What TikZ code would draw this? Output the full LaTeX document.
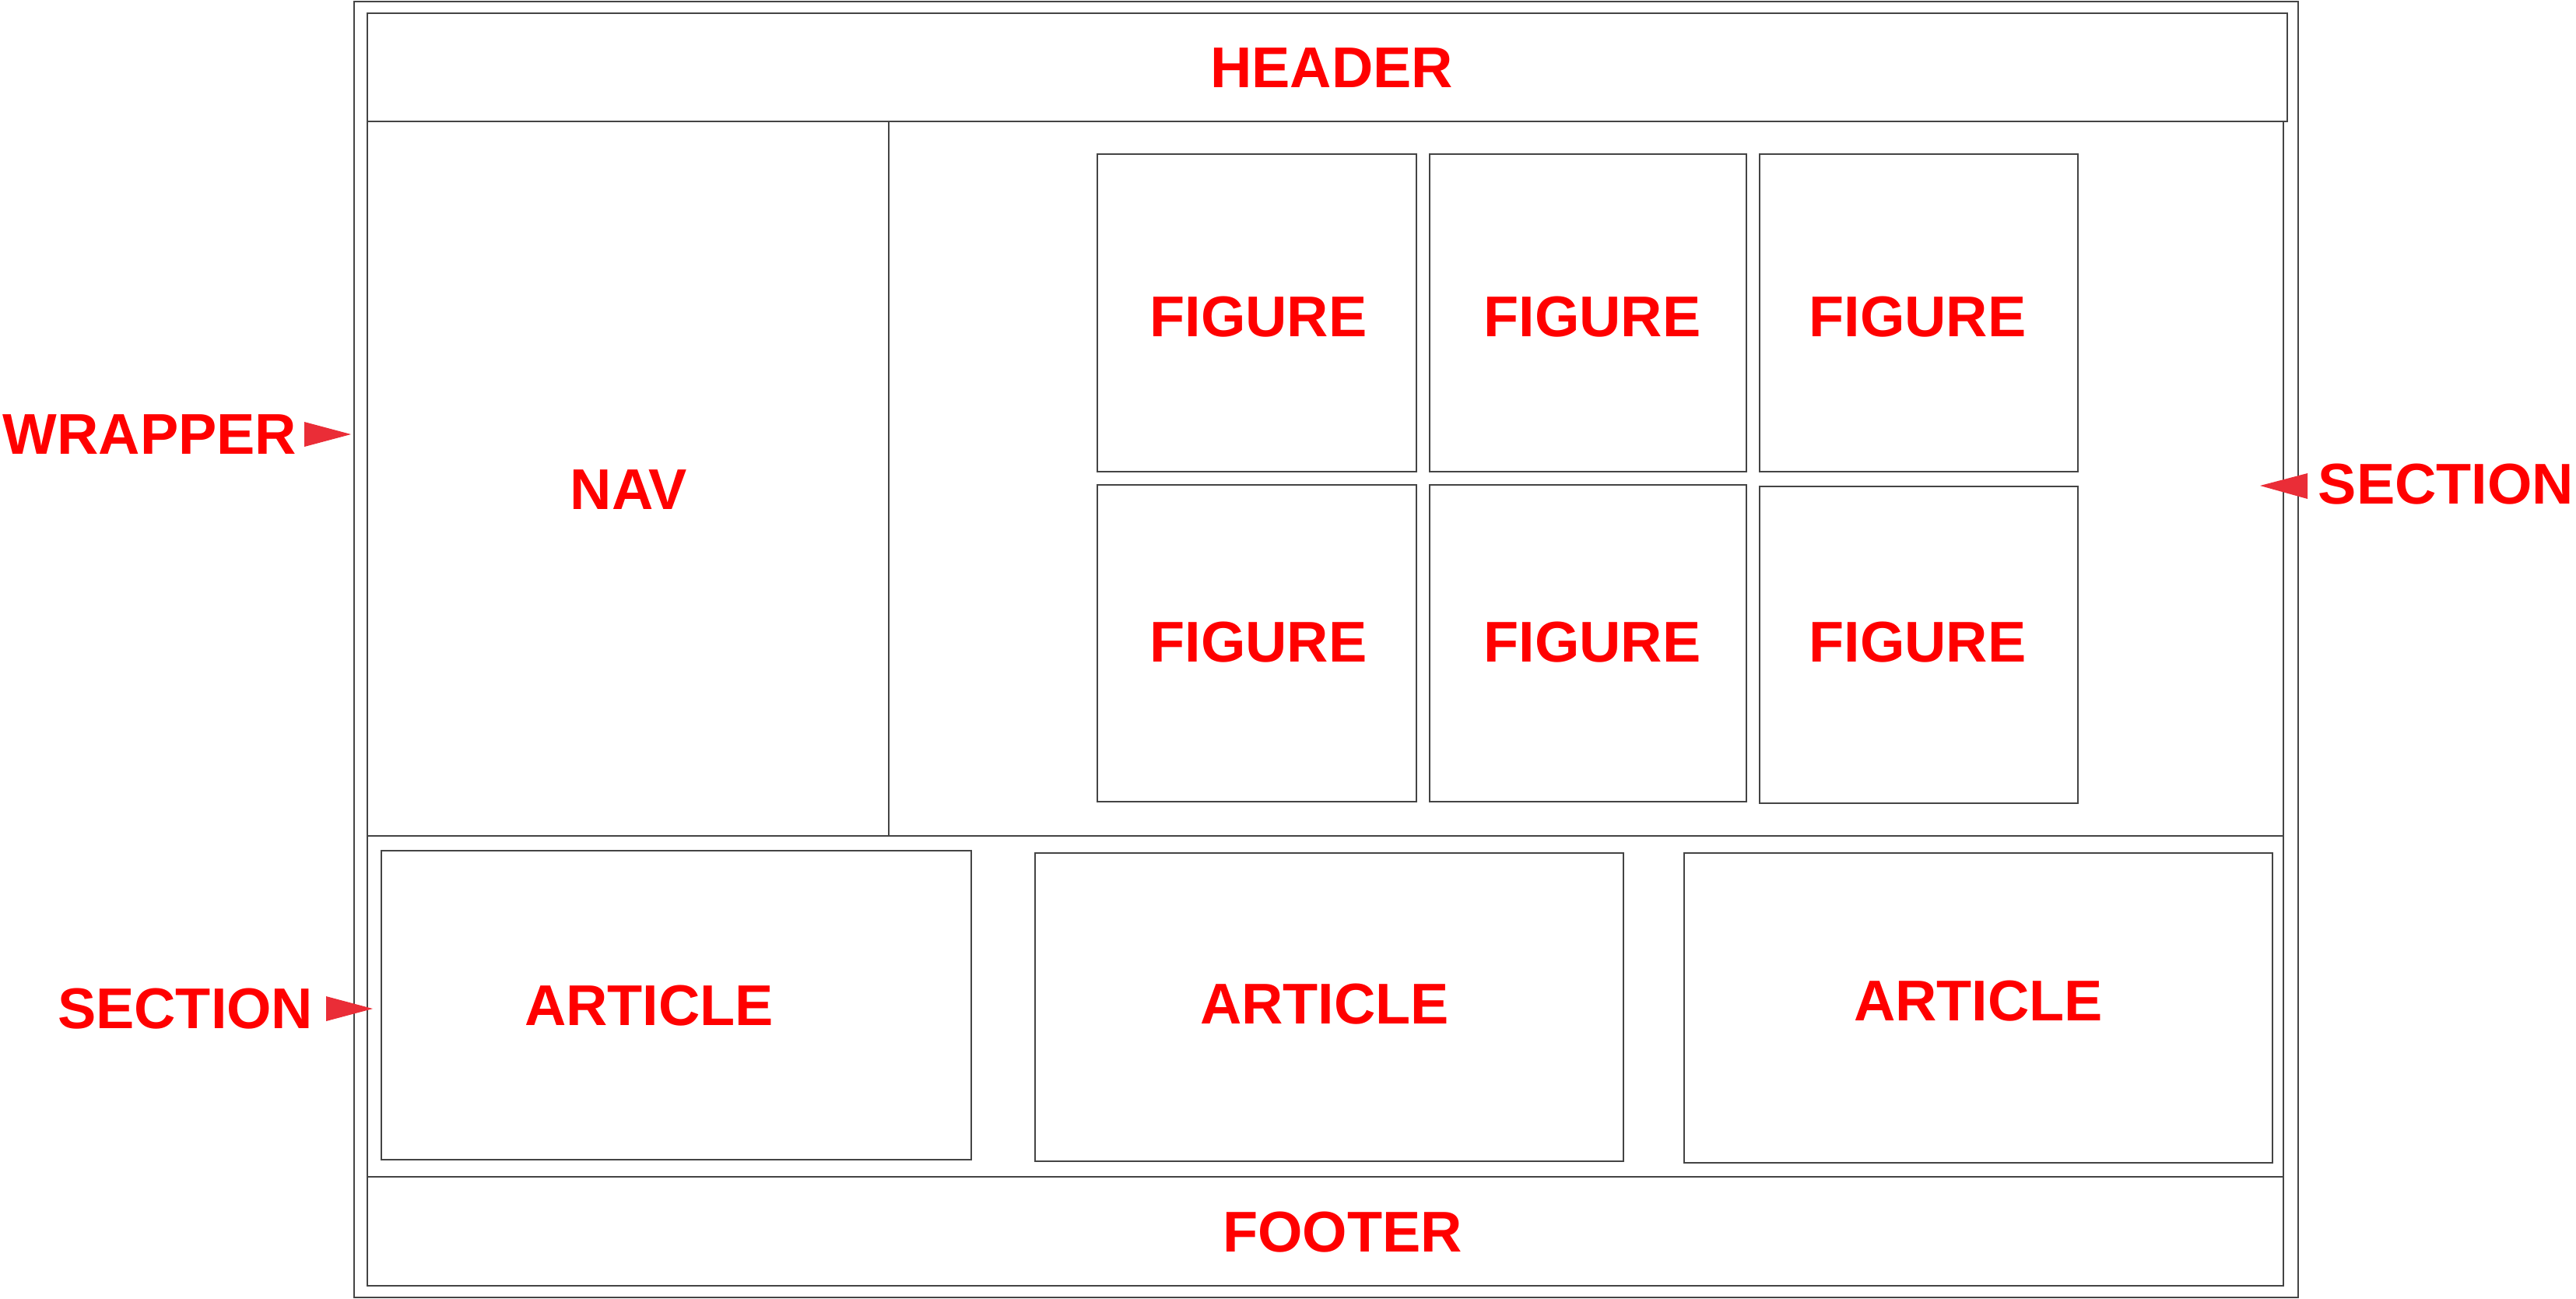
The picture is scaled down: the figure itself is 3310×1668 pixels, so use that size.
\documentclass[tikz,border=0pt]{standalone}
\usepackage{fontspec}
\setmainfont{Liberation Sans}
\usetikzlibrary{fit}
\definecolor{linegray}{HTML}{444444}
\definecolor{labred}{RGB}{255,0,0}
\definecolor{arrred}{RGB}{234,45,55}
\begin{document}
\begin{tikzpicture}[x=0.01cm,y=-0.01cm,
  box/.style={draw=linegray,line width=0.5pt,inner sep=0pt,fit={#1}},
  lbl/.style={text=labred,inner sep=0pt,font=\fontsize{21}{25}\selectfont\bfseries},
  tri/.style={fill=arrred}]
\useasboundingbox (0,0) rectangle (3310,1668);
% containers
\node[box={(455,2) (2953,1667)}] (wrapper) {};
\node[box={(472,17) (2939,156)}] (header) {};
\node[box={(472,156) (1142,1074)}] (nav) {};
\node[box={(1142,156) (2934,1074)}] (sectop) {};
\node[box={(472,1074) (2934,1512)}] (secbot) {};
\node[box={(472,1512) (2934,1652)}] (footer) {};
% figures
\node[box={(1410,198) (1820,606)}] (f11) {};
\node[box={(1837,198) (2244,606)}] (f12) {};
\node[box={(2261,198) (2670,606)}] (f13) {};
\node[box={(1410,623) (1820,1030)}] (f21) {};
\node[box={(1837,623) (2244,1030)}] (f22) {};
\node[box={(2261,625) (2670,1032)}] (f23) {};
% articles
\node[box={(490,1093) (1248,1490)}] (a1) {};
\node[box={(1330,1096) (2086,1492)}] (a2) {};
\node[box={(2164,1096) (2920,1494)}] (a3) {};
% labels
\node[lbl] (lheader) at (1711,87) {HEADER};
\node[lbl] (lnav) at (808,629) {NAV};
\node[lbl] (lf11) at (1617,407) {FIGURE};
\node[lbl] (lf12) at (2046,407) {FIGURE};
\node[lbl] (lf13) at (2464,407) {FIGURE};
\node[lbl] (lf21) at (1617,825) {FIGURE};
\node[lbl] (lf22) at (2046,825) {FIGURE};
\node[lbl] (lf23) at (2464,825) {FIGURE};
\node[lbl] (la1) at (834,1292) {ARTICLE};
\node[lbl] (la2) at (1702,1290) {ARTICLE};
\node[lbl] (la3) at (2542,1286) {ARTICLE};
\node[lbl] (lfooter) at (1725,1583) {FOOTER};
% side labels
\node[lbl,anchor=east] (lwrap) at (382,558) {WRAPPER};
\node[lbl,anchor=west] (lsecr) at (2978,622) {SECTION};
\node[lbl,anchor=east] (lsecl) at (403,1296) {SECTION};
% pointer triangles
\coordinate (twrap) at (451,558);
\coordinate (tsecr) at (2904,624);
\coordinate (tsecl) at (479,1296);
\fill[tri] (391,542) -- (twrap) -- (391,574) -- cycle;
\fill[tri] (2965,608) -- (tsecr) -- (2965,641) -- cycle;
\fill[tri] (419,1280) -- (tsecl) -- (419,1312) -- cycle;
\end{tikzpicture}
\end{document}
